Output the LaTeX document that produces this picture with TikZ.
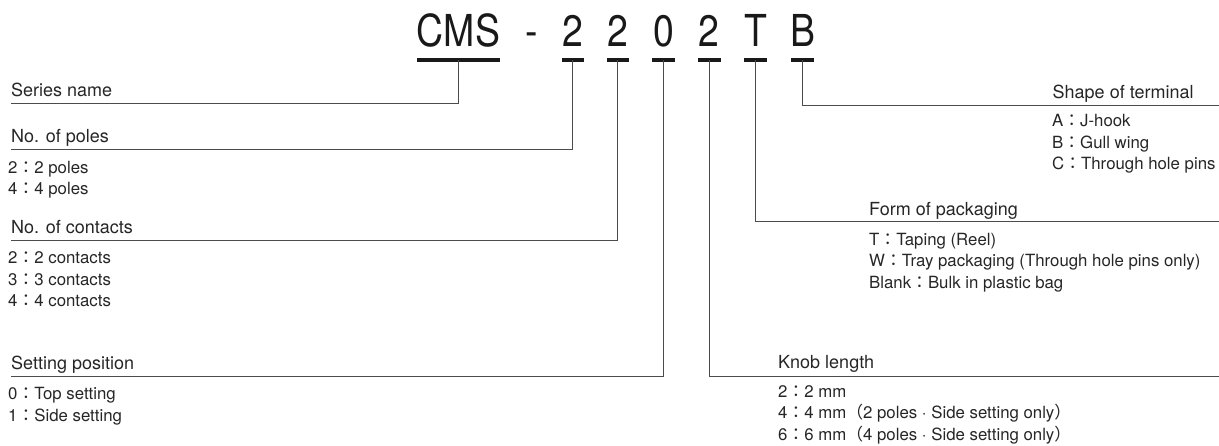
\documentclass[tikz,border=0pt]{standalone}
\usepackage{fontspec}
\setmainfont{TeX Gyre Heros}
\newfontfamily\codefont{TeX Gyre Heros}[FakeStretch=0.85]
\newfontfamily\cjk{Noto Sans CJK JP}
\newcommand{\sep}{{\cjk ：}}
\usetikzlibrary{positioning}

\begin{document}
\begin{tikzpicture}[x=1pt,y=-1pt,
	code/.style={font=\codefont\fontsize{44}{44}\selectfont,inner sep=0pt,anchor=base,text=black!90},
	head/.style={font=\fontsize{18}{18}\selectfont,inner sep=0pt,anchor=base west,text=black!85},
	item/.style={font=\fontsize{16.8}{16.8}\selectfont,inner sep=0pt,anchor=base west,text=black!85},
	bar/.style={line width=4pt,black!90},
	lead/.style={line width=1pt,black!70}]
	\useasboundingbox (0,0) rectangle (1219,445);
	% type code
	\node[code] (cms) at (458.5,46.5) {CMS};
	\node[code] (dash) at (532,46.5) {-};
	\draw[bar] (417,60)--(500,60);
	\coordinate (bseries) at (458.5,60);
	\foreach \x/\c/\n in {572.8/2/poles,617.8/2/contacts,663.5/0/setting,709.3/2/knob,755.5/T/pack,802.5/B/term}{
		\node[code] (c\n) at (\x,46.5) {\c};
		\draw[bar] (\x-11.3,60)--(\x+11.3,60);
		\coordinate (b\n) at (\x,60);
	}
	% left side
	\node[head] (series) at (11,96.5) {Series name};
	\coordinate (lseries) at (11,103.3);
	\draw[lead] (bseries) |- (lseries);

	\node[head] (poles) at (11,142.5) {No. of poles};
	\coordinate (lpoles) at (11,149.3);
	\draw[lead] (bpoles) |- (lpoles);
	\foreach \t [count=\i] in {{2\sep 2 poles},{4\sep 4 poles}}
		\node[item] (pole\i) at (8,{173+21.5*(\i-1)}) {\t};

	\node[head] (contacts) at (11,233) {No. of contacts};
	\coordinate (lcontacts) at (11,240);
	\draw[lead] (bcontacts) |- (lcontacts);
	\foreach \t [count=\i] in {{2\sep 2 contacts},{3\sep 3 contacts},{4\sep 4 contacts}}
		\node[item] (contact\i) at (8,{263.5+21.5*(\i-1)}) {\t};

	\node[head] (setting) at (11,369) {Setting position};
	\coordinate (lsetting) at (11,376);
	\draw[lead] (bsetting) |- (lsetting);
	\foreach \t [count=\i] in {{0\sep Top setting},{1\sep Side setting}}
		\node[item] (set\i) at (8,{399.5+21.5*(\i-1)}) {\t};

	% right side
	\node[head] (term) at (1052.5,98) {Shape of terminal};
	\coordinate (lterm) at (1219,105);
	\draw[lead] (bterm) |- (lterm);
	\foreach \t [count=\i] in {{A\sep J-hook},{B\sep Gull wing},{C\sep Through hole pins}}
		\node[item] (term\i) at (1052,{126.5+21.5*(\i-1)}) {\t};

	\node[head] (pack) at (869,215) {Form of packaging};
	\coordinate (lpack) at (1219,221.7);
	\draw[lead] (bpack) |- (lpack);
	\foreach \t [count=\i] in {{T\sep Taping (Reel)},{W\sep Tray packaging (Through hole pins only)},{Blank\sep Bulk in plastic bag}}
		\node[item] (pack\i) at (869,{245+21.5*(\i-1)}) {\t};

	\node[head] (knob) at (778,368) {Knob length};
	\coordinate (lknob) at (1219,376);
	\draw[lead] (bknob) |- (lknob);
	\foreach \t [count=\i] in {{2\sep 2 mm},{4\sep 4 mm{\cjk （}2 poles · Side setting only{\cjk ）}},{6\sep 6 mm{\cjk （}4 poles · Side setting only{\cjk ）}}}
		\node[item] (knob\i) at (778,{397+21.5*(\i-1)}) {\t};
\end{tikzpicture}
\end{document}
